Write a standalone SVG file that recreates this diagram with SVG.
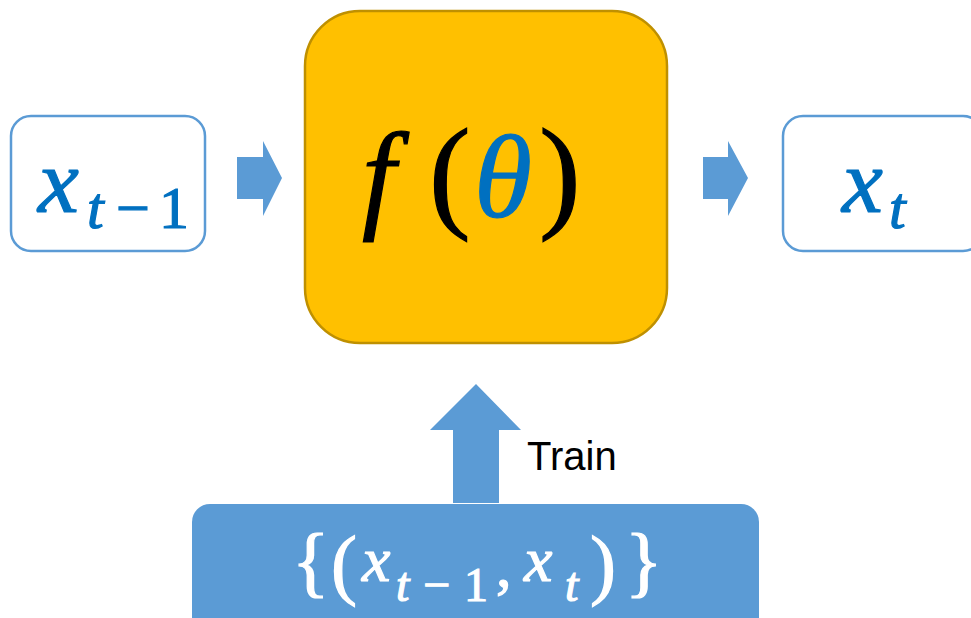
<svg xmlns="http://www.w3.org/2000/svg" width="971" height="618" viewBox="0 0 971 618">
<style>
.io{fill:#FFFFFF;stroke:#5B9BD5;stroke-width:2.5}
.arr{fill:#5B9BD5}
.m{font-family:"Liberation Serif","Times New Roman",serif;stroke-width:1.2}
.i{font-style:italic}
.blue{fill:#0070C0;stroke:#0070C0}
.white{fill:#FFFFFF;stroke:#FFFFFF}
.blk{fill:#000000;stroke:#000000}
</style>
<g id="connectors">
<polygon class="arr" points="237,157 263,157 263,141 282,178 263,216 263,199 237,199"/>
<polygon class="arr" points="703,157 728,157 728,141 748,178 728,216 728,199 703,199"/>
<polygon class="arr" points="453,503 453,430 430,430 476,384 521,430 499,430 499,503"/>
<text x="527" y="470" font-family="Liberation Sans, Arial, sans-serif" font-size="40" fill="#000000">Train</text>
</g>
<g id="node-xt1">
<rect class="io" x="11" y="116" width="194" height="135" rx="20"/>
<text class="m blue"><tspan class="i" x="38" y="212" font-size="92">x</tspan><tspan class="i" x="87" y="228" font-size="60">t</tspan><tspan x="116" y="228" font-size="60">−</tspan><tspan x="159" y="228" font-size="60">1</tspan></text>
</g>
<g id="node-f">
<rect x="305" y="11" width="362" height="332" rx="55" fill="#FFC000" stroke="#BF9000" stroke-width="2.5"/>
<text class="m blk"><tspan class="i" x="362" y="216" font-size="120">f</tspan><tspan x="429" y="215" font-size="125">(</tspan><tspan class="i blue" x="474" y="217" font-size="118">θ</tspan><tspan x="539" y="215" font-size="125">)</tspan></text>
</g>
<g id="node-xt">
<rect class="io" x="783" y="116" width="200" height="135" rx="20"/>
<text class="m blue"><tspan class="i" x="842" y="212" font-size="92">x</tspan><tspan class="i" x="889" y="228" font-size="60">t</tspan></text>
</g>
<g id="node-data">
<rect x="192" y="504" width="567" height="140" rx="18" fill="#5B9BD5"/>
<text class="m white"><tspan x="292" y="588" font-size="78">{</tspan><tspan x="331" y="590" font-size="78">(</tspan><tspan class="i" x="362" y="581" font-size="64">x</tspan><tspan class="i" x="396" y="601" font-size="48">t</tspan><tspan x="423" y="601" font-size="48">−</tspan><tspan x="464" y="601" font-size="48">1</tspan><tspan x="496" y="586" font-size="62">,</tspan><tspan class="i" x="524" y="581" font-size="64">x</tspan><tspan class="i" x="565" y="601" font-size="48">t</tspan><tspan x="590" y="590" font-size="78">)</tspan><tspan x="625" y="588" font-size="78">}</tspan></text>
</g>
</svg>
